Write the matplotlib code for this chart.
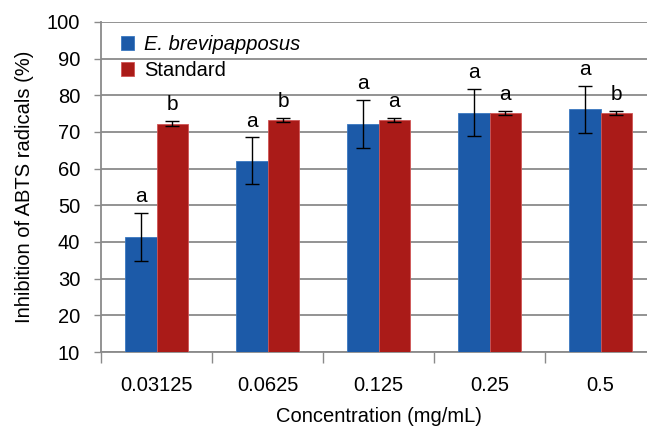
import numpy as np
import matplotlib.pyplot as plt

plt.rcParams['font.family'] = ['Liberation Sans', 'DejaVu Sans']

concentrations = ['0.03125', '0.0625', '0.125', '0.25', '0.5']
extract_mean = [41.3, 62.1, 72.2, 75.3, 76.2]
extract_err = [6.5, 6.4, 6.45, 6.45, 6.45]
standard_mean = [72.2, 73.2, 73.2, 75.2, 75.2]
standard_err = [0.7, 0.6, 0.6, 0.6, 0.6]
extract_letters = ['a', 'a', 'a', 'a', 'a']
standard_letters = ['b', 'b', 'a', 'a', 'b']

blue = '#1c5aa8'
red = '#aa1b18'
grey = '#8a8a8a'

fig = plt.figure(figsize=(6.47, 4.29), dpi=100)
ax = fig.add_axes([101 / 647, 1 - 352 / 429, 555 / 647, 330 / 429])

x = np.arange(len(concentrations))
w = 0.285

ax.bar(x - w / 2, extract_mean, w, color=blue, edgecolor='#3a78c0',
       linewidth=0.6, label='E. brevipapposus', zorder=3)
ax.bar(x + w / 2, standard_mean, w, color=red, edgecolor='#d05555',
       linewidth=0.6, label='Standard', zorder=3)
ax.errorbar(x - w / 2, extract_mean, yerr=extract_err, fmt='none', ecolor='black',
            elinewidth=1, capsize=5, capthick=1, zorder=4)
ax.errorbar(x + w / 2, standard_mean, yerr=standard_err, fmt='none', ecolor='black',
            elinewidth=1, capsize=5, capthick=1, zorder=4)

for i in range(len(concentrations)):
    ax.annotate(extract_letters[i], (x[i] - w / 2, extract_mean[i] + extract_err[i]),
                xytext=(0, 5), textcoords='offset points', ha='center', va='bottom',
                fontsize=15)
    ax.annotate(standard_letters[i], (x[i] + w / 2, standard_mean[i] + standard_err[i]),
                xytext=(0, 5), textcoords='offset points', ha='center', va='bottom',
                fontsize=15)

ax.set_ylim(10, 100)
ax.set_yticks(range(10, 101, 10))
ax.set_xlim(-0.5, len(concentrations) - 0.5)
ax.set_xticks(x)
ax.set_xticklabels(concentrations)
ax.set_xticks(np.arange(-0.5, len(concentrations)), minor=True)
ax.tick_params(axis='x', which='major', length=0, pad=17, labelsize=14.5)
ax.tick_params(axis='x', which='minor', length=8, width=1, color=grey, direction='out')
ax.tick_params(axis='y', length=5, width=1, color=grey, pad=10, labelsize=14.5)

ax.yaxis.grid(True, color=grey, linewidth=1.3, zorder=0)
ax.set_axisbelow(True)
for s in ['top', 'right']:
    ax.spines[s].set_visible(False)
for s in ['left', 'bottom']:
    ax.spines[s].set_color(grey)
    ax.spines[s].set_linewidth(1.3)

ax.set_xlabel('Concentration (mg/mL)', fontsize=14.5, labelpad=9)
ax.set_ylabel('Inhibition of ABTS radicals (%)', fontsize=14.5, labelpad=9)

leg = ax.legend(loc='upper left', bbox_to_anchor=(0.0, 1.022), frameon=False,
                fontsize=14.5, handlelength=0.65, handleheight=0.65,
                handletextpad=0.5, labelspacing=0.35, borderaxespad=0.6)
leg.get_texts()[0].set_fontstyle('italic')

fig.savefig('out.png', dpi=100)
